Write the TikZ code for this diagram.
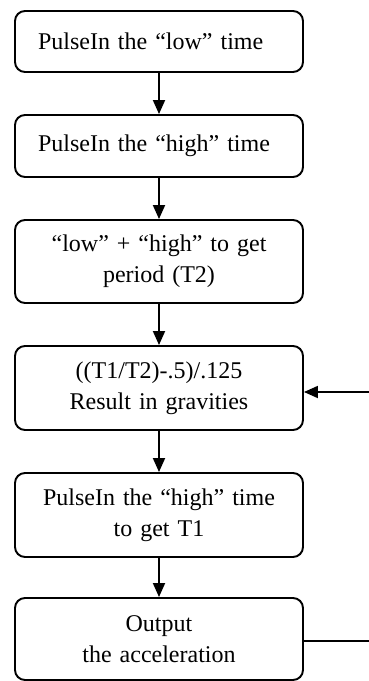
\documentclass[tikz,border=0pt]{standalone}
\usepackage{fontspec}
\setmainfont{Liberation Serif}
\usetikzlibrary{arrows.meta}
\begin{document}
\begin{tikzpicture}[x=1pt,y=-1pt,
  box/.style={draw=black, line width=1.9pt, rounded corners=10pt, minimum width=288pt,
    inner sep=0pt, font=\fontsize{24}{31}\selectfont},
  lbox/.style={box, text width=242pt, align=left},
  cbox/.style={box, text width=280pt, align=center},
  flow/.style={line width=1.8pt, -{Triangle[width=12pt,length=14pt]}},
  plain/.style={line width=1.8pt}]
\useasboundingbox (0,0) rectangle (369,681);
\node[lbox, minimum height=61pt] (b1) at (159,41.5) {PulseIn the “low” time};
\node[lbox, minimum height=62pt] (b2) at (159,146) {PulseIn the “high” time};
\node[cbox, minimum height=83pt] (b3) at (159,261.5) {“low” + “high” to get\\period (T2)};
\node[cbox, minimum height=84pt] (b4) at (159,388) {((T1/T2)-.5)/.125\\Result in gravities};
\node[cbox, minimum height=84pt] (b5) at (159,515) {PulseIn the “high” time\\to get T1};
\node[cbox, minimum height=82pt] (b6) at (159,639) {Output\\the acceleration};
\coordinate (in4) at (369,392);
\coordinate (out6) at (369,641);
\draw[flow] (b1.south) -- (b2.north);
\draw[flow] (b2.south) -- (b3.north);
\draw[flow] (b3.south) -- (b4.north);
\draw[flow] (b4.south) -- (b5.north);
\draw[flow] (b5.south) -- (b6.north);
\draw[flow] (in4) -- (in4 -| b4.east);
\draw[plain] (out6 -| b6.east) -- (out6);
\end{tikzpicture}
\end{document}
